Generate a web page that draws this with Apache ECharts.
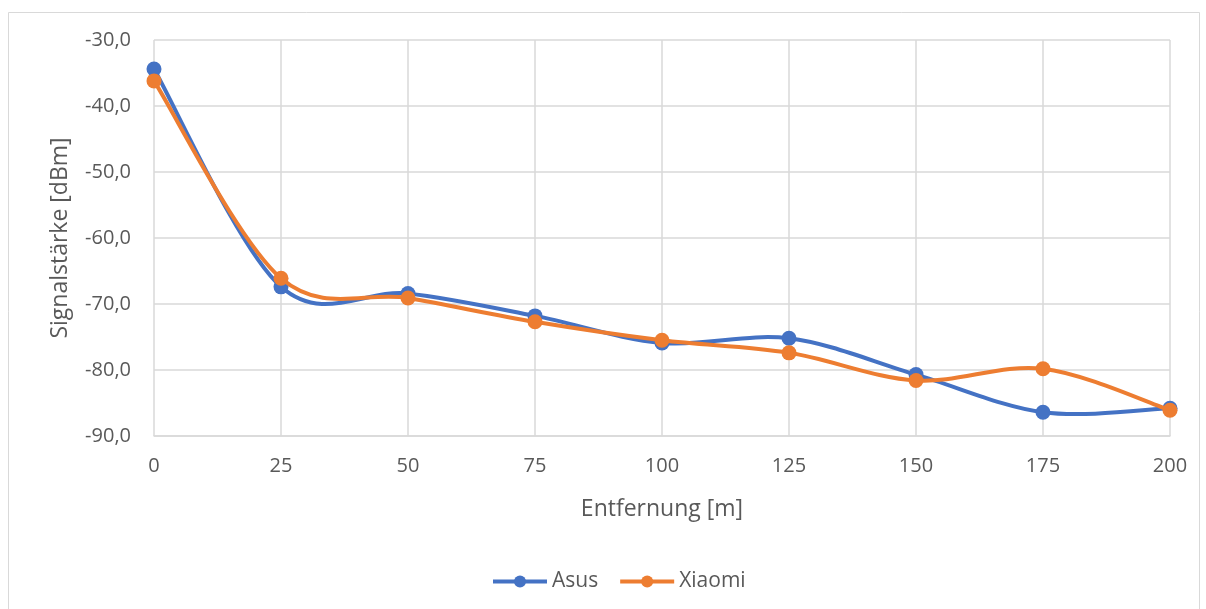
<!DOCTYPE html>
<html>
<head>
<meta charset="utf-8">
<script src="https://cdn.jsdelivr.net/npm/echarts@6/dist/echarts.min.js"></script>
<style>
html,body{margin:0;padding:0;background:#fff;}
#chart{width:1206px;height:609px;}
</style>
</head>
<body>
<div id="chart"></div>
<script>
// Distance in metres and measured signal strength in dBm
const distances = [0, 25, 50, 75, 100, 125, 150, 175, 200];
const asus   = [-34.4, -67.4, -68.4, -71.8, -75.9, -75.2, -80.7, -86.4, -85.8];
const xiaomi = [-36.2, -66.1, -69.1, -72.7, -75.5, -77.4, -81.6, -79.8, -86.1];

const FONT = '"Open Sans", "Noto Sans", sans-serif';
const TEXT = '#595959';
const GRID = '#d9d9d9';
const BLUE = '#4472C4';
const ORANGE = '#ED7D31';

const pairs = vals => distances.map((d, i) => [d, vals[i]]);
const fmt = v => v.toFixed(1).replace('.', ',');

// Catmull-Rom spline segment from point i to i+1, in pixel space
function splineSeries(vals, color, z) {
  return {
    type: 'custom', data: pairs(vals), z: z, silent: true,
    renderItem: function (params, api) {
      const n = distances.length;
      const i = params.dataIndex;
      if (i >= n - 1) return null;
      const p = k => api.coord([distances[k], vals[k]]);
      const p0 = p(Math.max(i - 1, 0)), p1 = p(i), p2 = p(i + 1), p3 = p(Math.min(i + 2, n - 1));
      return {
        type: 'bezierCurve',
        shape: {
          x1: p1[0], y1: p1[1], x2: p2[0], y2: p2[1],
          cpx1: p1[0] + (p2[0] - p0[0]) / 6, cpy1: p1[1] + (p2[1] - p0[1]) / 6,
          cpx2: p2[0] - (p3[0] - p1[0]) / 6, cpy2: p2[1] - (p3[1] - p1[1]) / 6
        },
        style: { stroke: color, lineWidth: 4, fill: null, lineCap: 'round' }
      };
    }
  };
}

function markerSeries(name, vals, color, z) {
  return {
    name: name, type: 'line', data: pairs(vals), z: z,
    symbol: 'circle', symbolSize: 15,
    itemStyle: { color: color },
    lineStyle: { color: color, width: 4, opacity: 0 }
  };
}

const chart = echarts.init(document.getElementById('chart'));
chart.setOption({
  animation: false,
  backgroundColor: '#fff',
  graphic: [{
    type: 'rect',
    shape: { x: 8.5, y: 12.5, width: 1191, height: 610 },
    style: { fill: 'none', stroke: GRID, lineWidth: 1 },
    silent: true
  }],
  grid: { left: 154, right: 36, top: 40, bottom: 173 },
  xAxis: {
    type: 'value', min: 0, max: 200, interval: 25,
    name: 'Entfernung [m]', nameLocation: 'middle', nameGap: 62,
    nameTextStyle: { fontFamily: FONT, fontSize: 23, color: TEXT },
    axisLine: { show: true, lineStyle: { color: GRID, width: 1.5 } },
    axisTick: { show: false },
    axisLabel: { fontFamily: FONT, fontSize: 20, color: TEXT, margin: 20 },
    splitLine: { show: true, lineStyle: { color: GRID, width: 1.5 } }
  },
  yAxis: {
    type: 'value', min: -90, max: -30, interval: 10,
    name: 'Signalstärke [dBm]', nameLocation: 'middle', nameGap: 82, nameRotate: 90,
    nameTextStyle: { fontFamily: FONT, fontSize: 23, color: TEXT },
    axisLine: { show: false },
    axisTick: { show: false },
    axisLabel: { fontFamily: FONT, fontSize: 20, color: TEXT, margin: 23, formatter: fmt },
    splitLine: { show: true, lineStyle: { color: GRID, width: 1.5 } }
  },
  legend: {
    top: 566, left: 486, itemGap: 20,
    itemWidth: 54, itemHeight: 15,
    lineStyle: { width: 4, opacity: 1 },
    textStyle: { fontFamily: FONT, fontSize: 21, color: TEXT },
    data: ['Asus', 'Xiaomi']
  },
  series: [
    splineSeries(asus, BLUE, 1),
    markerSeries('Asus', asus, BLUE, 2),
    splineSeries(xiaomi, ORANGE, 3),
    markerSeries('Xiaomi', xiaomi, ORANGE, 4)
  ]
});
</script>
</body>
</html>
